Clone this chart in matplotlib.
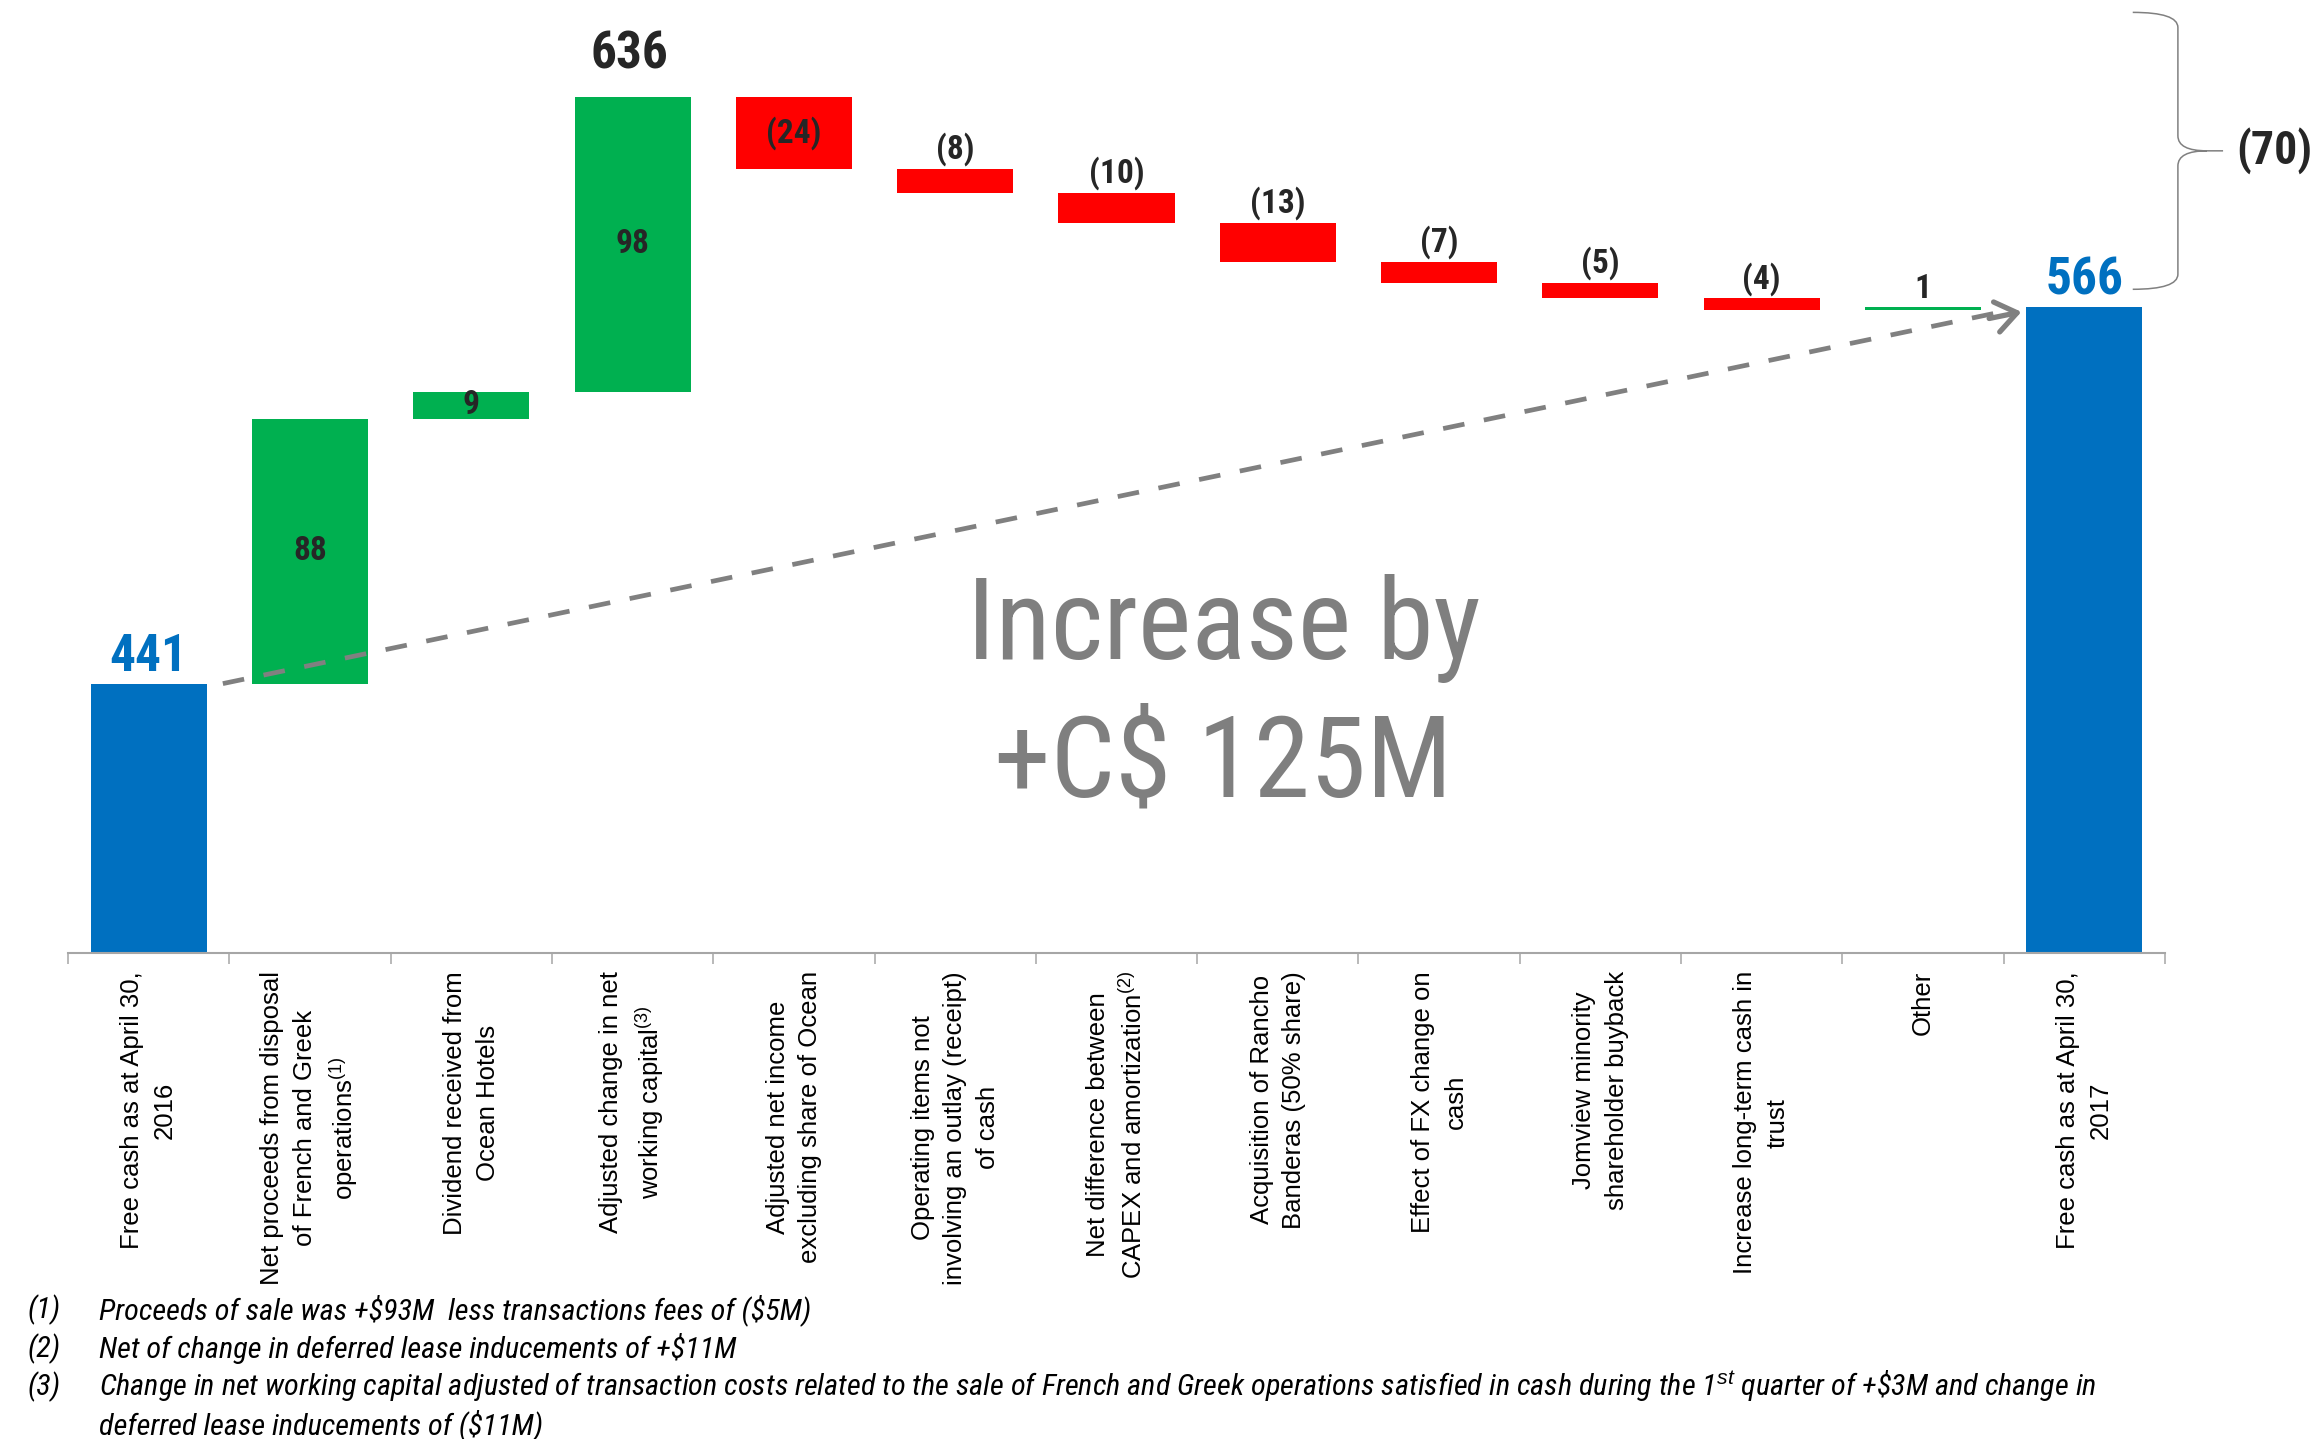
import numpy as np
import matplotlib
matplotlib.use('Agg')
import matplotlib.pyplot as plt
from matplotlib.path import Path
from matplotlib.patches import PathPatch

plt.rcParams['font.family'] = ['Liberation Sans', 'DejaVu Sans']
plt.rcParams['mathtext.fontset'] = 'custom'
plt.rcParams['mathtext.rm'] = 'Liberation Sans'
plt.rcParams['mathtext.it'] = 'Liberation Sans:italic'

NARROW = ['Roboto Condensed', 'DejaVu Sans']

# free cash bridge, C$ millions
categories = [
    "Free cash as at April 30,\n2016",
    "Net proceeds from disposal\nof French and Greek\noperations$^{(1)}$",
    "Dividend received from\nOcean Hotels",
    "Adjusted change in net\nworking capital$^{(3)}$",
    "Adjusted net income\nexcluding share of Ocean",
    "Operating items not\ninvolving an outlay (receipt)\nof cash",
    "Net difference between\nCAPEX and amortization$^{(2)}$",
    "Acquisition of Rancho\nBanderas (50% share)",
    "Effect of FX change on\ncash",
    "Jomview minority\nshareholder buyback",
    "Increase long-term cash in\ntrust",
    "Other",
    "Free cash as at April 30,\n2017",
]
start_value = 441
changes = [88, 9, 98, -24, -8, -10, -13, -7, -5, -4, 1]
label_inside = [True, True, True, True, False, False, False, False, False, False, False]
subtotal_bar = 3            # bar that closes the positive items
increase_text = "Increase by\n+C$ 125M"

footnotes = [
    ("(1)", r"Proceeds of sale was +\$93M  less transactions fees of (\$5M)"),
    ("(2)", r"Net of change in deferred lease inducements of +\$11M"),
    ("(3)", r"Change in net working capital adjusted of transaction costs related to the sale of French and Greek operations satisfied in cash during the 1$^{st}$ quarter of +\$3M and change in"),
    ("", r"deferred lease inducements of (\$11M)"),
]

BLUE = '#0070C0'
GREEN = '#00B050'
RED = '#FF0000'
DARK = '#262626'
GREY = '#808080'

ends = start_value + np.cumsum(changes)
starts = ends - np.array(changes)
end_value = ends[-1]
peak = ends[subtotal_bar - 1]

fig = plt.figure(figsize=(23.24, 14.39), dpi=100)
W, H = 2324, 1439
ax = fig.add_axes([68 / W, 1 - 953 / H, 2097 / W, 933 / H])
ymin = 351.5
ax.set_xlim(-0.5, len(categories) - 0.5)
ax.set_ylim(ymin, ymin + 933 / 3.01)

bw = 0.72
n = len(categories)
ax.bar(0, start_value - ymin, bottom=ymin, width=bw, color=BLUE)
ax.bar(n - 1, end_value - ymin, bottom=ymin, width=bw, color=BLUE)
for i, (s, c) in enumerate(zip(starts, changes)):
    ax.bar(i + 1, c, bottom=s, width=bw, color=GREEN if c > 0 else RED)

def fmt(v):
    return f"({-v})" if v < 0 else f"{v}"

for i, (s, c, inside) in enumerate(zip(starts, changes, label_inside)):
    if inside:
        ax.text(i + 1, s + c / 2, fmt(c), ha='center', va='center',
                fontsize=24, fontweight='bold', color=DARK, family=NARROW)
    else:
        ax.annotate(fmt(c), (i + 1, max(s, s + c)), xytext=(0, 2), textcoords='offset points',
                    ha='center', va='bottom', fontsize=24, fontweight='bold',
                    color=DARK, family=NARROW)

for x, v in [(0, start_value), (n - 1, end_value)]:
    ax.annotate(f"{v}", (x, v), xytext=(0, 1), textcoords='offset points',
                ha='center', va='bottom', fontsize=37, fontweight='bold',
                color=BLUE, family=NARROW)
ax.annotate(f"{peak}", (subtotal_bar, peak), xytext=(-2, 12), textcoords='offset points',
            ha='center', va='bottom', fontsize=37, fontweight='bold',
            color=DARK, family=NARROW)

# dashed trend arrow from opening to closing cash
x0, x1 = bw / 2 + 0.1, n - 1 - bw / 2 - 0.03
ax.plot([x0, x1 - 0.15], [start_value, end_value - 1.8], color=GREY, lw=3.4,
        ls=(0, (4.6, 4.2)), solid_capstyle='butt')
ax.annotate('', xy=(x1, end_value - 1.5), xytext=(x1 - 0.2, end_value - 3.7),
            arrowprops=dict(arrowstyle='->,head_length=0.75,head_width=0.55',
                            lw=3.8, color=GREY, mutation_scale=20,
                            shrinkA=0, shrinkB=0))

ax.text(0.551, 0.2745, increase_text, transform=ax.transAxes, ha='center', va='center',
        fontsize=82, color='#7F7F7F', family=NARROW, linespacing=1.34)

# brace over the negative items
top, bot = peak + 28, end_value + 6
mid = (top + bot) / 2
xe, xv, xt, xs = n - 1 + 0.30, n - 1 + 0.58, n - 1 + 0.76, n - 1 + 0.86
r = 5
verts = [(xe, top), (xv, top), (xv, top - r), (xv, mid + r), (xv, mid), (xt, mid), (xs, mid),
         (xt, mid), (xv, mid), (xv, mid - r), (xv, bot + r), (xv, bot), (xe, bot)]
codes = [Path.MOVETO, Path.CURVE3, Path.CURVE3, Path.LINETO, Path.CURVE3, Path.CURVE3, Path.LINETO,
         Path.MOVETO, Path.CURVE3, Path.CURVE3, Path.LINETO, Path.CURVE3, Path.CURVE3]
ax.add_patch(PathPatch(Path(verts, codes), fill=False, ec=GREY, lw=1.1, clip_on=False))
ax.text(n - 1 + 1.18, mid, fmt(end_value - peak), ha='center', va='center', fontsize=33,
        fontweight='bold', color=DARK, family=NARROW, clip_on=False)

# axes styling
for side in ['top', 'right', 'left']:
    ax.spines[side].set_visible(False)
ax.spines['bottom'].set_color('#A6A6A6')
ax.spines['bottom'].set_linewidth(1.5)
ax.set_yticks([])
ax.set_xticks(range(n))
ax.set_xticklabels(categories, rotation=90, ha='center', va='top', multialignment='center',
                   fontsize=18.5, linespacing=1.45)
ax.tick_params(axis='x', which='major', length=0, pad=13)
ax.set_xticks(np.arange(-0.5, n, 1), minor=True)
ax.tick_params(axis='x', which='minor', length=8, width=1.1, color='#A6A6A6')

for j, (num, txt) in enumerate(footnotes):
    y = 1 - (1310 + 38.3 * j) / H
    if num:
        fig.text(27 / W, y, num, ha='left', va='center', fontsize=21.8, style='italic',
                 family=NARROW)
    fig.text(99 / W, y, txt, ha='left', va='center', fontsize=21.8, style='italic',
             family=NARROW)

fig.savefig('out.png', dpi=100)
